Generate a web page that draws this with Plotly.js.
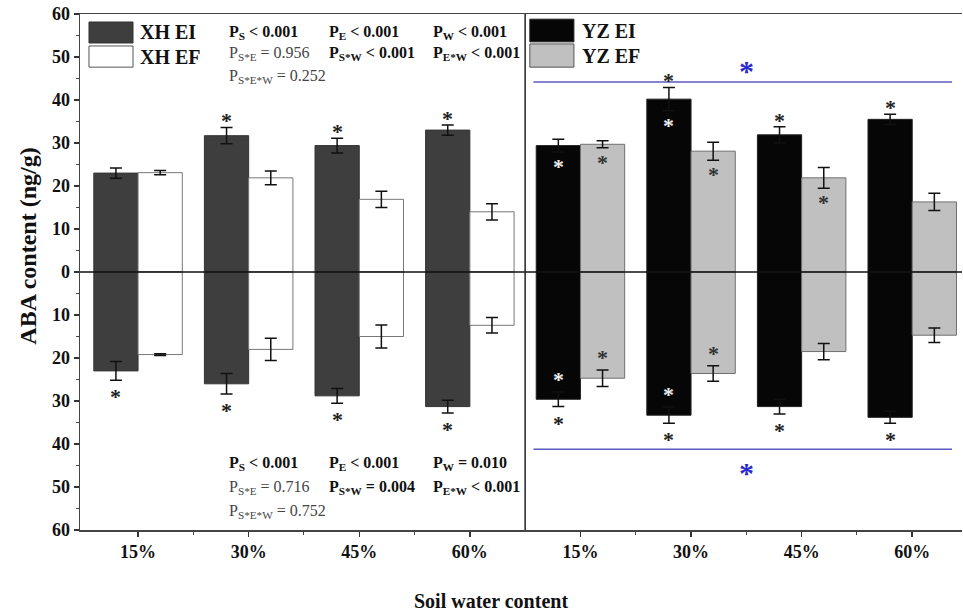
<!DOCTYPE html>
<html><head><meta charset="utf-8">
<script src="https://cdn.plot.ly/plotly-3.0.1.min.js"></script>
<style>html,body{margin:0;padding:0;background:#fff}#chart{width:963px;height:615px}</style>
</head><body><div id="chart"></div>
<script>
// ---------- data ----------
const categories = ['15%', '30%', '45%', '60%'];
const yTickVals = [-60, -50, -40, -30, -20, -10, 0, 10, 20, 30, 40, 50, 60];
const yTickText = ['60', '50', '40', '30', '20', '10', '0', '10', '20', '30', '40', '50', '60'];

// XH cultivar (upper panel values = positive, lower = drawn downward)
const xhEIUp = [23.0, 31.7, 29.4, 33.0];
const xhEIUpErr = [1.2, 1.9, 1.7, 1.2];
const xhEFUp = [23.1, 21.9, 16.9, 14.0];
const xhEFUpErr = [0.5, 1.6, 1.9, 1.9];
const xhEIDown = [23.0, 26.0, 28.8, 31.3];
const xhEIDownErr = [2.2, 2.4, 1.7, 1.5];
const xhEFDown = [19.2, 18.0, 15.0, 12.4];
const xhEFDownErr = [0.2, 2.6, 2.7, 1.8];

// YZ cultivar
const yzEIUp = [29.4, 40.2, 31.9, 35.5];
const yzEIUpErr = [1.5, 2.7, 1.9, 1.2];
const yzEFUp = [29.7, 28.1, 21.9, 16.3];
const yzEFUpErr = [0.8, 2.1, 2.4, 2.0];
const yzEIDown = [29.6, 33.3, 31.3, 33.8];
const yzEIDownErr = [1.7, 1.9, 1.7, 1.4];
const yzEFDown = [24.7, 23.6, 18.5, 14.7];
const yzEFDownErr = [1.9, 1.8, 1.9, 1.7];

// significance markers (1 = asterisk)
const xhEIUpSig = [0, 1, 1, 1];
const xhEIDownSig = [1, 1, 1, 1];
const yzEIUpSig = [0, 1, 1, 1];
const yzEIUpInSig = [1, 1, 0, 0];
const yzEIDownSig = [1, 1, 1, 1];
const yzEIDownInSig = [1, 1, 0, 0];
const yzEFUpInSig = [1, 1, 1, 0];
const yzEFDownInSig = [1, 1, 0, 0];

// statistics text
const statsTop = [
  ['<b>P<sub>S</sub> &lt; 0.001</b>', '<b>P<sub>E</sub> &lt; 0.001</b>', '<b>P<sub>W</sub> &lt; 0.001</b>'],
  ['P<sub>S*E</sub> = 0.956', '<b>P<sub>S*W</sub> &lt; 0.001</b>', '<b>P<sub>E*W</sub> &lt; 0.001</b>'],
  ['P<sub>S*E*W</sub> = 0.252']
];
const statsBottom = [
  ['<b>P<sub>S</sub> &lt; 0.001</b>', '<b>P<sub>E</sub> &lt; 0.001</b>', '<b>P<sub>W</sub> = 0.010</b>'],
  ['P<sub>S*E</sub> = 0.716', '<b>P<sub>S*W</sub> = 0.004</b>', '<b>P<sub>E*W</sub> &lt; 0.001</b>'],
  ['P<sub>S*E*W</sub> = 0.752']
];
const legendNames = ['XH EI', 'XH EF', 'YZ EI', 'YZ EF'];

// ---------- styling ----------
const FONT = 'Liberation Serif, Times New Roman, serif';
const COL = {xhEI: '#3e3e3e', xhEF: '#ffffff', yzEI: '#060606', yzEF: '#c0c0c0'};
const LINE = {xhEI: '#333333', xhEF: '#777777', yzEI: '#222222', yzEF: '#707070'};
const xhPos = [1, 2, 3, 4];
const yzPos = [5, 6, 7, 8];
const BW = 0.4;
const eiX = p => p.map(v => v - BW / 2);
const efX = p => p.map(v => v + BW / 2);
const neg = a => a.map(v => -v);

function barTrace(x, y, err, fill, line) {
  return {
    type: 'bar', x: x, y: y, width: BW, showlegend: false, hoverinfo: 'skip',
    marker: {color: fill, line: {color: line, width: 1}},
    error_y: {type: 'data', array: err, visible: true, color: '#111', thickness: 1.5, width: 6}
  };
}

const traces = [
  barTrace(eiX(xhPos), xhEIUp, xhEIUpErr, COL.xhEI, LINE.xhEI),
  barTrace(efX(xhPos), xhEFUp, xhEFUpErr, COL.xhEF, LINE.xhEF),
  barTrace(eiX(xhPos), neg(xhEIDown), xhEIDownErr, COL.xhEI, LINE.xhEI),
  barTrace(efX(xhPos), neg(xhEFDown), xhEFDownErr, COL.xhEF, LINE.xhEF),
  barTrace(eiX(yzPos), yzEIUp, yzEIUpErr, COL.yzEI, LINE.yzEI),
  barTrace(efX(yzPos), yzEFUp, yzEFUpErr, COL.yzEF, LINE.yzEF),
  barTrace(eiX(yzPos), neg(yzEIDown), yzEIDownErr, COL.yzEI, LINE.yzEI),
  barTrace(efX(yzPos), neg(yzEFDown), yzEFDownErr, COL.yzEF, LINE.yzEF)
];

// ---------- annotations ----------
const ann = [];
function star(x, y, color, size, shift) {
  ann.push({x: x, y: y, xref: 'x', yref: 'y', text: '*', showarrow: false,
    xanchor: 'center', yanchor: 'middle', yshift: shift === undefined ? -5 : shift,
    font: {family: FONT, size: size || 22, color: color || '#222', weight: 'bold'}});
}
const GAP = 2.7;
function starsAbove(xs, vals, errs, sig, color) {
  sig.forEach((s, i) => { if (s) star(xs[i], vals[i] + errs[i] + GAP, color); });
}
function starsBelow(xs, vals, errs, sig, color) {
  sig.forEach((s, i) => { if (s) star(xs[i], -(vals[i] + errs[i] + GAP), color); });
}
function starsInTop(xs, vals, errs, sig, color) {
  sig.forEach((s, i) => { if (s) star(xs[i], vals[i] - errs[i] - 2.2, color); });
}
function starsInBottom(xs, vals, errs, sig, color) {
  sig.forEach((s, i) => { if (s) star(xs[i], -(vals[i] - errs[i] - 4), color); });
}
starsAbove(eiX(xhPos), xhEIUp, xhEIUpErr, xhEIUpSig, '#222');
starsBelow(eiX(xhPos), xhEIDown, xhEIDownErr, xhEIDownSig, '#222');
starsAbove(eiX(yzPos), yzEIUp, yzEIUpErr, yzEIUpSig, '#222');
starsBelow(eiX(yzPos), yzEIDown, yzEIDownErr, yzEIDownSig, '#222');
starsInTop(eiX(yzPos), yzEIUp, yzEIUpErr, yzEIUpInSig, '#ececec');
starsInBottom(eiX(yzPos), yzEIDown, yzEIDownErr, yzEIDownInSig, '#ececec');
starsInTop(efX(yzPos), yzEFUp, yzEFUpErr, yzEFUpInSig, '#333');
starsInBottom(efX(yzPos), yzEFDown, yzEFDownErr, yzEFDownInSig, '#333');

// blue significance asterisks between cultivars
ann.push({x: 6.5, y: 48.6, xref: 'x', yref: 'y', text: '*', showarrow: false, yanchor: 'middle', yshift: -7,
  font: {family: FONT, size: 30, color: '#2a2acc', weight: 'bold'}});
ann.push({x: 6.5, y: -44.9, xref: 'x', yref: 'y', text: '*', showarrow: false, yanchor: 'middle', yshift: -7,
  font: {family: FONT, size: 30, color: '#2a2acc', weight: 'bold'}});

// stats text
const colX = [0.1667, 0.2800, 0.3985];
const topRowY = [0.965, 0.9225, 0.878];
const botRowY = [0.128, 0.0814, 0.0368];
function statBlock(rows, rowY) {
  rows.forEach((row, r) => row.forEach((t, c) => {
    const bold = t.indexOf('<b>') === 0;
    ann.push({x: colX[c], y: rowY[r], xref: 'paper', yref: 'paper', text: t, showarrow: false,
      xanchor: 'left', yanchor: 'middle',
      font: {family: FONT, size: 16, color: bold ? '#111' : '#444'}});
  }));
}
statBlock(statsTop, topRowY);
statBlock(statsBottom, botRowY);

// legend labels
const legTextPos = [[0.0658, 0.965], [0.0658, 0.9167], [0.567, 0.967], [0.567, 0.9186]];
legendNames.forEach((n, i) => ann.push({x: legTextPos[i][0], y: legTextPos[i][1], xref: 'paper', yref: 'paper',
  text: '<b>' + n + '</b>', showarrow: false, xanchor: 'left', yanchor: 'middle',
  font: {family: FONT, size: 20, color: '#111'}}));

// axis titles
ann.push({x: -0.059, y: 0.551, xref: 'paper', yref: 'paper', text: '<b>ABA content (ng/g)</b>', textangle: -90,
  showarrow: false, xanchor: 'center', yanchor: 'middle', font: {family: FONT, size: 24, color: '#111'}});
ann.push({x: 0.466, y: -0.1376, xref: 'paper', yref: 'paper', text: '<b>Soil water content</b>',
  showarrow: false, xanchor: 'center', yanchor: 'middle', font: {family: FONT, size: 20, color: '#111'}});

// ---------- shapes ----------
const legBoxes = [
  [0.0102, 0.0601, 0.9438, 0.9845, COL.xhEI, LINE.xhEI],
  [0.0102, 0.0601, 0.897, 0.938, COL.xhEF, '#555'],
  [0.510, 0.560, 0.946, 0.990, COL.yzEI, LINE.yzEI],
  [0.510, 0.560, 0.897, 0.942, COL.yzEF, '#555']
];
const shapes = legBoxes.map(b => ({type: 'rect', xref: 'paper', yref: 'paper', x0: b[0], x1: b[1], y0: b[2], y1: b[3],
  fillcolor: b[4], line: {color: b[5], width: 1}}));
shapes.push({type: 'line', xref: 'paper', yref: 'y', x0: 0, x1: 1, y0: 0, y1: 0, line: {color: '#111', width: 1.5}, layer: 'above'});
shapes.push({type: 'line', xref: 'x', yref: 'paper', x0: 4.5, x1: 4.5, y0: 0, y1: 1, line: {color: '#222', width: 1.5}});
shapes.push({type: 'line', xref: 'x', yref: 'y', x0: 4.575, x1: 8.36, y0: 44.2, y1: 44.2, line: {color: '#5a5ac0', width: 1.5}});
shapes.push({type: 'line', xref: 'x', yref: 'y', x0: 4.575, x1: 8.36, y0: -41.2, y1: -41.2, line: {color: '#5a5ac0', width: 1.5}});

const layout = {
  width: 963, height: 615,
  margin: {l: 80, r: 1, t: 14, b: 85},
  paper_bgcolor: '#fff', plot_bgcolor: '#fff',
  barmode: 'overlay', bargap: 0,
  showlegend: false,
  font: {family: FONT, color: '#111'},
  xaxis: {
    range: [0.475, 8.45], tickmode: 'array', tickvals: xhPos.concat(yzPos),
    ticktext: categories.concat(categories),
    ticks: 'outside', ticklen: 5, tickwidth: 1.5, tickcolor: '#333',
    showline: true, linecolor: '#444', linewidth: 1.5, mirror: true,
    showgrid: false, zeroline: false, fixedrange: true,
    tickfont: {family: FONT, size: 18, color: '#111', weight: 'bold'},
    minor: {tickvals: [1.5, 2.5, 3.5, 5.5, 6.5, 7.5], ticks: 'outside', ticklen: 3, tickwidth: 1, tickcolor: '#444', showgrid: false}
  },
  yaxis: {
    range: [-60, 60], tickmode: 'array', tickvals: yTickVals, ticktext: yTickText,
    ticks: 'outside', ticklen: 5, tickwidth: 1.5, tickcolor: '#333',
    showline: true, linecolor: '#444', linewidth: 1.5,
    showgrid: false, zeroline: false, fixedrange: true,
    tickfont: {family: FONT, size: 18, color: '#111', weight: 'bold'},
    minor: {tickvals: [-55, -45, -35, -25, -15, -5, 5, 15, 25, 35, 45, 55], ticks: 'outside', ticklen: 3, tickwidth: 1, tickcolor: '#444', showgrid: false}
  },
  annotations: ann,
  shapes: shapes
};

Plotly.newPlot('chart', traces, layout, {staticPlot: true, displayModeBar: false});
</script>
</body></html>
